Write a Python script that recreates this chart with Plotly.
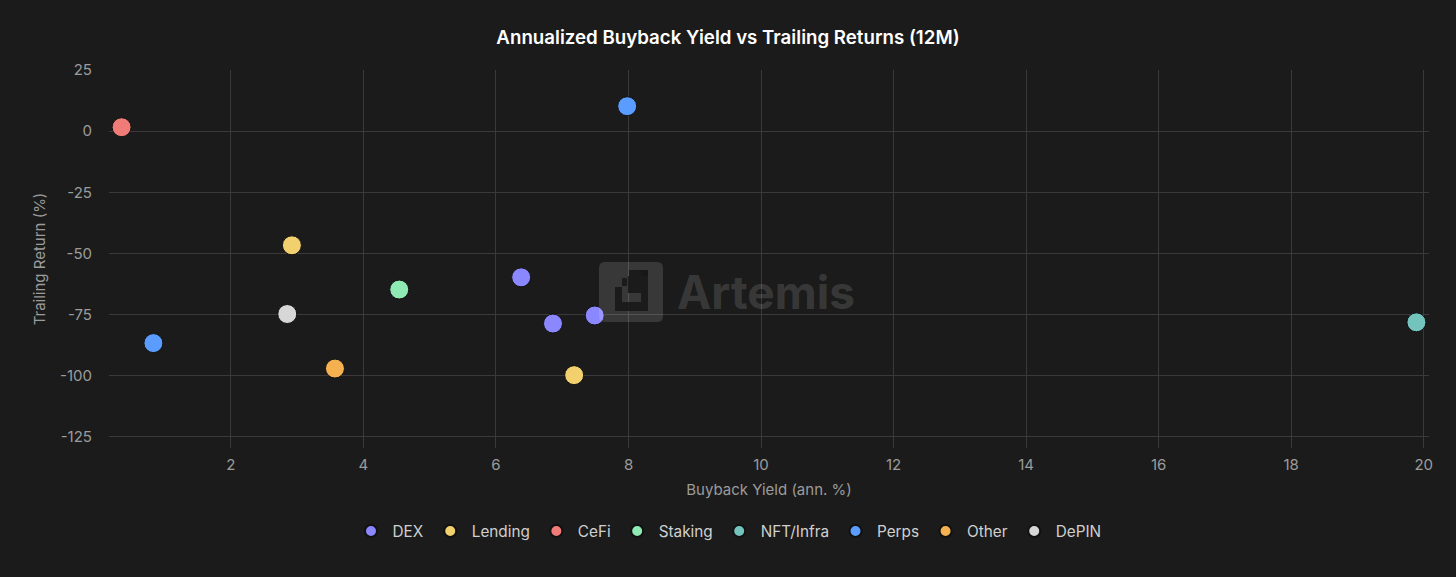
import plotly.graph_objects as go

categories = ["DEX", "Lending", "CeFi", "Staking", "NFT/Infra", "Perps", "Other", "DePIN"]
colors = ["#8b87ff", "#f3d06e", "#f07c78", "#8eeab2", "#74c4be", "#5a9cff", "#f5b150", "#d7d7d7"]
buyback_yield = {
    "DEX": [6.38, 6.86, 7.49],
    "Lending": [2.92, 7.18],
    "CeFi": [0.35],
    "Staking": [4.54],
    "NFT/Infra": [19.89],
    "Perps": [7.98, 0.83],
    "Other": [3.57],
    "DePIN": [2.85],
}
trailing_return = {
    "DEX": [-59.8, -78.7, -75.4],
    "Lending": [-46.7, -99.8],
    "CeFi": [1.6],
    "Staking": [-64.8],
    "NFT/Infra": [-78.2],
    "Perps": [10.2, -86.7],
    "Other": [-97.1],
    "DePIN": [-74.8],
}
y_ticks = [25, 0, -25, -50, -75, -100, -125]
y_tick_labels = ["25", "0", "-25", "-50", "-75", "-100", "-125"]
x_ticks = [2, 4, 6, 8, 10, 12, 14, 16, 18, 20]

fig = go.Figure()
for cat, col in zip(categories, colors):
    fig.add_trace(go.Scatter(
        x=buyback_yield[cat], y=trailing_return[cat], mode="markers", name=cat,
        marker=dict(color=col, size=19, line=dict(color="#111111", width=1)),
    ))

bg = "#1b1b1b"
grid = "#3a3a3a"
tickc = "#9c9c9c"
fig.update_layout(
    width=1456, height=577,
    paper_bgcolor=bg, plot_bgcolor=bg,
    font=dict(family="Inter, Roboto, sans-serif", color=tickc, size=15),
    title=dict(text="Annualized Buyback Yield vs Trailing Returns (12M)", x=0.5, xanchor="center",
               y=1 - 37 / 577, yanchor="middle",
               font=dict(size=18.7, color="#ffffff", family="Inter, sans-serif", weight=600)),
    margin=dict(l=109, r=27, t=70, b=129),
    legend=dict(orientation="h", x=(728 - 109) / 1320, xanchor="center", y=-83 / 378, yanchor="middle",
                font=dict(size=15.3, color="#d0d0d0"), itemsizing="constant", traceorder="normal",
                itemwidth=33),
    showlegend=True,
)
fig.update_xaxes(range=[0.16, 20.08], tickvals=x_ticks, showgrid=True, gridcolor=grid, gridwidth=1,
                 zeroline=False, showline=False, ticks="", ticklabelstandoff=6,
                 title=dict(text="Buyback Yield (ann. %)", standoff=11, font=dict(size=15, color=tickc)),
                 tickfont=dict(size=15, color=tickc))
fig.update_yaxes(range=[-129.6, 25], tickvals=y_ticks, ticktext=y_tick_labels, showgrid=True,
                 gridcolor=grid, gridwidth=1, zeroline=False, showline=False, ticks="",
                 ticklabelstandoff=16,
                 title=dict(text="Trailing Return (%)", standoff=10, font=dict(size=15, color=tickc)),
                 tickfont=dict(size=15, color=tickc))

# watermark (pixel positions converted to paper coordinates)
def px(x):
    return (x - 109) / 1320

def py(y):
    return (448 - y) / 378

fig.add_shape(type="path", xref="paper", yref="paper",
              path=(f"M {px(605)},{py(262)} L {px(657)},{py(262)} Q {px(663)},{py(262)} {px(663)},{py(268)} "
                    f"L {px(663)},{py(316)} Q {px(663)},{py(322)} {px(657)},{py(322)} L {px(605)},{py(322)} "
                    f"Q {px(599)},{py(322)} {px(599)},{py(316)} L {px(599)},{py(268)} Q {px(599)},{py(262)} {px(605)},{py(262)} Z"),
              fillcolor="rgba(255,255,255,0.13)", line=dict(width=0), layer="above")
glyph = [
    (641, 270, 648, 311),
    (629, 270, 648, 276),
    (628, 276, 641, 293),
    (622, 278, 627, 286),
    (615, 287, 622, 311),
    (622, 302, 641, 311),
]
for x0, y0, x1, y1 in glyph:
    fig.add_shape(type="rect", xref="paper", yref="paper", x0=px(x0), x1=px(x1), y0=py(y1), y1=py(y0),
                  fillcolor="rgba(22,22,22,0.85)", line=dict(width=0), layer="above")
fig.add_annotation(text="<b>Artemis</b>", xref="paper", yref="paper", x=px(675), xanchor="left",
                   y=py(292), yanchor="middle", showarrow=False,
                   font=dict(size=46, color="rgba(255,255,255,0.14)", family="Inter, sans-serif"))

fig.write_html("out.html", config={"displayModeBar": False},
               post_script="document.body.style.margin='0';")
